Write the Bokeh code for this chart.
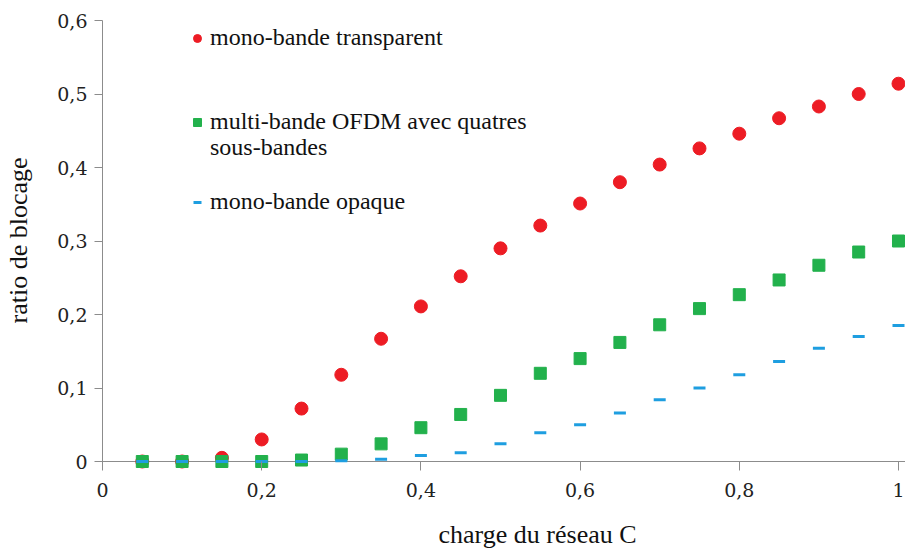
from bokeh.plotting import figure
from bokeh.models import (Range1d, FixedTicker, Legend, LegendItem, Title, Span)
from bokeh.embed import file_html
from bokeh.resources import INLINE

# ---- data ----
charge = [0.05, 0.10, 0.15, 0.20, 0.25, 0.30, 0.35, 0.40, 0.45, 0.50,
          0.55, 0.60, 0.65, 0.70, 0.75, 0.80, 0.85, 0.90, 0.95, 1.00]
transparent = [0.0, 0.0, 0.005, 0.030, 0.072, 0.118, 0.167, 0.211, 0.252, 0.290,
               0.321, 0.351, 0.380, 0.404, 0.426, 0.446, 0.467, 0.483, 0.500, 0.514]
ofdm = [0.0, 0.0, 0.0, 0.0, 0.002, 0.010, 0.024, 0.046, 0.064, 0.090,
        0.120, 0.140, 0.162, 0.186, 0.208, 0.227, 0.247, 0.267, 0.285, 0.300]
opaque = [0.0, 0.0, 0.0, 0.0, 0.0, 0.001, 0.003, 0.008, 0.012, 0.024,
          0.039, 0.050, 0.066, 0.084, 0.100, 0.118, 0.136, 0.154, 0.170, 0.185]

x_ticks = [0, 0.2, 0.4, 0.6, 0.8, 1]
x_tick_labels = ["0", "0,2", "0,4", "0,6", "0,8", "1"]
y_ticks = [0, 0.1, 0.2, 0.3, 0.4, 0.5, 0.6]
y_tick_labels = ["0", "0,1", "0,2", "0,3", "0,4", "0,5", "0,6"]

label_transparent = "mono-bande transparent"
label_ofdm_1 = "multi-bande OFDM avec quatres"
label_ofdm_2 = "sous-bandes"
label_opaque = "mono-bande opaque"
x_title = "charge du réseau C"
y_title = "ratio de blocage"

RED = "#ed1c24"
GREEN = "#22b14c"
BLUE = "#1e9ee0"
AXIS = "#8c8c8c"
SERIF = "Liberation Serif"
TICKFONT = "DejaVu Serif"

p = figure(frame_width=803, frame_height=460, output_backend="svg",
           toolbar_location=None,
           x_range=Range1d(0, 1.0088), y_range=Range1d(-0.01224, 0.61361),
           min_border_left=102, min_border_right=0, min_border_top=10,
           min_border_bottom=84)
p.outline_line_color = None
p.xgrid.visible = False
p.ygrid.visible = False

r_tr = p.scatter(charge, transparent, marker="circle", size=13,
                 fill_color=RED, line_color=RED)
r_of = p.scatter(charge, ofdm, marker="square", size=12,
                 fill_color=GREEN, line_color=GREEN)
r_op = p.scatter(charge, opaque, marker="dash", size=12,
                 line_color=BLUE, line_width=3)
r_blank = p.scatter([], [], marker="square", size=1, alpha=0)

# horizontal axis line at ratio = 0
p.add_layout(Span(location=0, dimension="width", line_color=AXIS,
                  line_width=1, level="underlay"))

for ax in (p.xaxis[0], p.yaxis[0]):
    ax.major_tick_line_color = AXIS
    ax.minor_tick_line_color = None
    ax.major_label_text_font = TICKFONT
    ax.major_label_text_font_size = "19px"
    ax.major_label_text_color = "#222222"

p.xaxis.axis_line_color = None
p.xaxis.ticker = FixedTicker(ticks=x_ticks)
p.xaxis.major_label_overrides = dict(zip(x_ticks, x_tick_labels))
p.xaxis.major_tick_in = 9
p.xaxis.major_tick_out = 0
p.xaxis.major_label_standoff = 12

p.yaxis.axis_line_color = AXIS
p.yaxis.ticker = FixedTicker(ticks=y_ticks)
p.yaxis.major_label_overrides = dict(zip(y_ticks, y_tick_labels))
p.yaxis.bounds = (-0.011, 0.6)
p.yaxis.major_tick_in = 0
p.yaxis.major_tick_out = 8
p.yaxis.major_label_standoff = 7
p.yaxis.axis_label = y_title
p.yaxis.axis_label_text_font = SERIF
p.yaxis.axis_label_text_font_size = "26px"
p.yaxis.axis_label_text_font_style = "normal"
p.yaxis.axis_label_text_color = "#111111"
p.yaxis.axis_label_standoff = 21

xt = Title(text=x_title, align="left", offset=336, standoff=36,
           text_font=SERIF, text_font_size="26px", text_font_style="normal",
           text_color="#111111")
p.add_layout(xt, "below")

def mk_legend(label, renderer, loc):
    lg = Legend(items=[LegendItem(label=label, renderers=[renderer])],
                location=loc, border_line_color=None,
                background_fill_alpha=0, padding=0, margin=0,
                label_standoff=3, glyph_width=20, glyph_height=20,
                label_text_font=SERIF, label_text_font_size="24px",
                label_text_color="#111111", label_height=24)
    p.add_layout(lg, "center")
    return lg

mk_legend(label_transparent, r_tr, (85, 419))
mk_legend(label_ofdm_1, r_of, (85, 335))
mk_legend(label_ofdm_2, r_blank, (85, 309))
mk_legend(label_opaque, r_op, (85, 255))

open("out.html", "w").write(file_html(p, INLINE))
